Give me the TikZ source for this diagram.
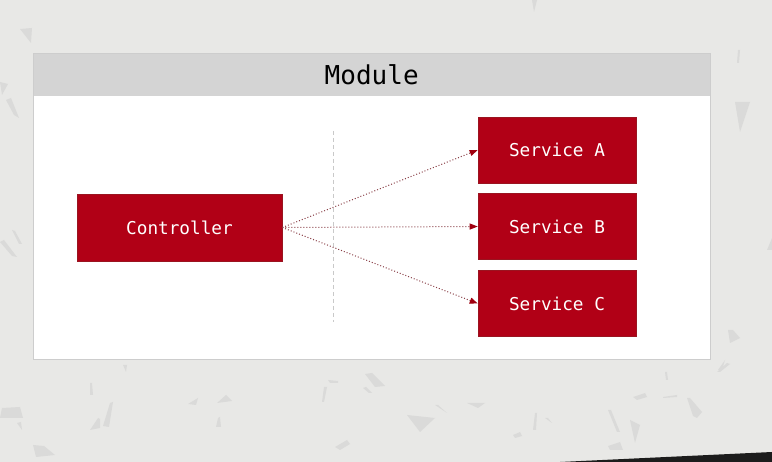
\documentclass[tikz,border=0pt]{standalone}
\usepackage{fontspec}
\setmonofont{DejaVu Sans Mono}
\usetikzlibrary{arrows.meta}
\definecolor{bg}{HTML}{E8E8E6}
\definecolor{shard}{HTML}{DADAD9}
\definecolor{hdr}{HTML}{D4D4D4}
\definecolor{frame}{HTML}{CDCDCD}
\definecolor{boxred}{HTML}{B10016}
\definecolor{boxedge}{HTML}{9A1420}
\definecolor{arr}{HTML}{8A4048}
\definecolor{tipred}{HTML}{A0000F}
\definecolor{sepline}{HTML}{C9C9C9}
\definecolor{band}{HTML}{1C1C1C}
\begin{document}
\begin{tikzpicture}[x=1pt,y=-1pt,
  svc/.style={draw=boxedge, fill=boxred, text=white, font=\ttfamily\fontsize{17.7}{20}\selectfont,
    minimum width=158pt, minimum height=66pt, inner sep=0pt, line width=0.6pt},
  ctrl/.style={svc, minimum width=205pt, minimum height=67pt},
  flow/.style={draw=arr, line width=1pt, dash pattern=on 1pt off 2pt,
    -{Triangle[length=8pt,width=6pt,color=tipred]}},
  shardstyle/.style={fill=shard, draw=none},
  modframe/.style={draw=frame, line width=0.8pt, inner sep=0pt, anchor=north west},
  sep/.style={draw=sepline, line width=1pt, dash pattern=on 4pt off 3pt}]
\useasboundingbox (0,0) rectangle (772,462);
\fill[bg] (0,0) rectangle (772,462);
% speckles
\fill[shardstyle] (0,82) -- (8,84) -- (2,95) -- cycle;
\fill[shardstyle] (6,100) -- (11,98) -- (19,118) -- (14,115) -- cycle;
\fill[shardstyle] (12,230) -- (15,231) -- (22,244) -- (19,244) -- cycle;
\fill[shardstyle] (0,242) -- (4,240) -- (17,257) -- (12,256) -- cycle;
\fill[shardstyle] (2,408) -- (20,407) -- (23,418) -- (0,418) -- cycle;
\fill[shardstyle] (17,423) -- (21,422) -- (22,430) -- cycle;
\fill[shardstyle] (33,445) -- (44,446) -- (55,455) -- (36,457) -- cycle;
\fill[shardstyle] (110,403) -- (113,402) -- (109,427) -- (103,426) -- cycle;
\fill[shardstyle] (98,418) -- (100,419) -- (100,428) -- (90,430) -- cycle;
\fill[shardstyle] (188,404) -- (198,398) -- (196,405) -- cycle;
\fill[shardstyle] (217,403) -- (226,395) -- (232,401) -- cycle;
\fill[shardstyle] (218,418) -- (220,417) -- (221,427) -- (216,427) -- cycle;
\fill[shardstyle] (90,383) -- (92,383) -- (93,395) -- (90,395) -- cycle;
\fill[shardstyle] (123,365) -- (127,365) -- (126,372) -- cycle;
\fill[shardstyle] (20,29) -- (32,28) -- (31,43) -- cycle;
\fill[shardstyle] (532,0) -- (537,0) -- (534,12) -- cycle;
\fill[shardstyle] (365,374) -- (372,373) -- (385,386) -- (375,387) -- cycle;
\fill[shardstyle] (363,388) -- (366,387) -- (372,393) -- (369,393) -- cycle;
\fill[shardstyle] (407,415) -- (435,418) -- (420,432) -- cycle;
\fill[shardstyle] (435,405) -- (438,405) -- (447,413) -- cycle;
\fill[shardstyle] (467,403) -- (485,403) -- (478,408) -- cycle;
\fill[shardstyle] (535,413) -- (537,413) -- (536,430) -- (533,430) -- cycle;
\fill[shardstyle] (545,418) -- (548,418) -- (552,423) -- cycle;
\fill[shardstyle] (513,435) -- (520,432) -- (522,436) -- (515,438) -- cycle;
\fill[shardstyle] (608,410) -- (611,410) -- (620,432) -- (617,432) -- cycle;
\fill[shardstyle] (630,420) -- (640,425) -- (635,443) -- cycle;
\fill[shardstyle] (608,446) -- (620,442) -- (623,450) -- (610,450) -- cycle;
\fill[shardstyle] (633,397) -- (645,393) -- (647,397) -- (637,400) -- cycle;
\fill[shardstyle] (687,398) -- (690,398) -- (702,412) -- (697,418) -- (693,416) -- cycle;
\fill[shardstyle] (663,397) -- (677,395) -- (677,397) -- (663,398) -- cycle;
\fill[shardstyle] (665,372) -- (667,372) -- (668,380) -- (666,380) -- cycle;
\fill[shardstyle] (717,372) -- (727,363) -- (730,364) -- (720,372) -- cycle;
\fill[shardstyle] (335,447) -- (347,440) -- (350,444) -- (340,450) -- cycle;
\fill[shardstyle] (324,387) -- (327,387) -- (324,402) -- (322,402) -- cycle;
\fill[shardstyle] (328,380) -- (338,381) -- (338,383) -- (330,383) -- cycle;
\fill[shardstyle] (735,102) -- (750,102) -- (740,132) -- cycle;
\fill[shardstyle] (738,50) -- (740,50) -- (739,63) -- (737,63) -- cycle;
\fill[shardstyle] (767,250) -- (772,238) -- (772,250) -- cycle;
\fill[shardstyle] (728,330) -- (733,330) -- (740,338) -- (730,343) -- cycle;
\fill[shardstyle] (718,370) -- (725,360) -- (722,370) -- cycle;
% dark band bottom right
\fill[band] (560,462) -- (772,452) -- (772,462) -- cycle;
% module
\node[modframe, fill=white, minimum width=677pt, minimum height=306pt] (module) at (33,53) {};
\node[fill=hdr, inner sep=0pt, anchor=north west, minimum width=677pt, minimum height=43pt,
  font=\ttfamily\fontsize{26}{30}\selectfont] (title) at (33,53) {Module};
\draw[frame, line width=0.8pt] (module.north west) rectangle (module.south east);
% separator
\coordinate (septop) at (333,131);
\coordinate (sepbot) at (333,322);
\draw[sep] (septop) -- (sepbot);
% boxes
\node[ctrl] (ctrl) at (179.5,227.5) {Controller};
\node[svc] (sa) at (557,150) {Service A};
\node[svc] (sb) at (557,226.5) {Service B};
\node[svc] (sc) at (557,303.5) {Service C};
% connectors
\draw[flow] (ctrl.east) -- (sa.west);
\draw[flow] (ctrl.east) -- (sb.west);
\draw[flow] (ctrl.east) -- (sc.west);
\end{tikzpicture}
\end{document}
